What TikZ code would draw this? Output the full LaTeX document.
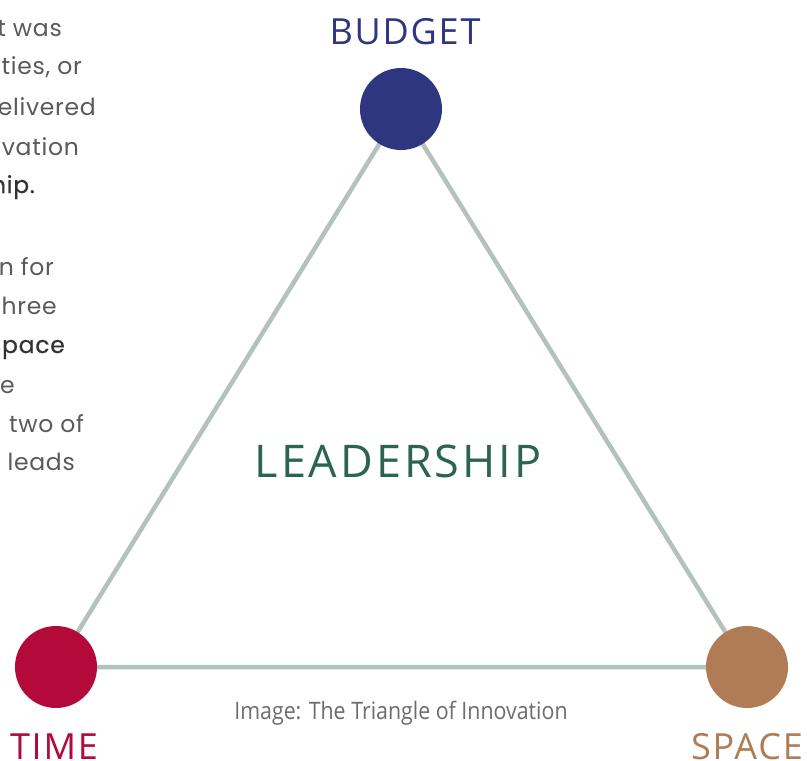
\documentclass[tikz,border=0pt]{standalone}
\usepackage{fontspec}
\setmainfont[LetterSpace=3]{Poppins}
\newfontfamily\headfont[LetterSpace=5]{Open Sans}
\newfontfamily\bigfont[LetterSpace=6.5]{Open Sans}
\newfontfamily\capfont[FakeStretch=0.89]{Open Sans}
\definecolor{budgetblue}{HTML}{2E3680}
\definecolor{timered}{HTML}{B30A3A}
\definecolor{spacebrown}{HTML}{B07C55}
\definecolor{edgegrey}{HTML}{B3C2BC}
\definecolor{leadgreen}{HTML}{2B6450}
\definecolor{captiongrey}{HTML}{6D6D6D}
\definecolor{bodygrey}{HTML}{5A5A5A}
\definecolor{bodydark}{HTML}{333333}
\begin{document}
\begin{tikzpicture}[x=1pt,y=-1pt,
  vertex/.style={circle,inner sep=0pt,minimum size=82pt},
  edge/.style={draw=edgegrey,line width=4.5pt},
  corner/.style={inner sep=0pt,font=\headfont\fontsize{36}{36}\selectfont},
  body/.style={anchor=base east,inner sep=0pt,text=bodygrey,font=\fontsize{23.5}{23.5}\selectfont},
  bodybold/.style={body,text=bodydark,font=\fontsize{23.5}{23.5}\selectfont\addfontfeatures{FakeBold=0.6}}]
\useasboundingbox[fill=white] (0,0) rectangle (807,761);

% tail ends of the paragraph lines running in from the left
\node[body] (p1) at (62,36) {t was};
\node[body] (p2) at (82,74) {ties, or};
\node[body] (p3) at (96,115) {elivered};
\node[body] (p4) at (79,155) {vation};
\node[bodybold] (p5) at (35,193) {hip.};
\node[body] (p6) at (54,275) {n for};
\node[body] (p7) at (57,314) {hree};
\node[bodybold] (p8) at (65,353) {Space};
\node[body] (p9) at (15,393) {e};
\node[body] (p10) at (84,432) {two of};
\node[body] (p11) at (75,470) {leads};

% the three corners
\coordinate (b) at (401,109);
\coordinate (t) at (56,667);
\coordinate (s) at (747,667);

\draw[edge] (b) -- (t) -- (s) -- cycle;

\node[vertex,fill=budgetblue] (budget) at (b) {};
\node[vertex,fill=timered] (time) at (t) {};
\node[vertex,fill=spacebrown] (space) at (s) {};

\node[corner,text=budgetblue,anchor=base] (budgetlabel) at (405,44) {BUDGET};
\node[corner,text=timered,anchor=base] (timelabel) at (54,759) {TIME};
\node[corner,text=spacebrown,anchor=base] (spacelabel) at (747,759) {SPACE};

\node[inner sep=0pt,anchor=base,text=leadgreen,font=\bigfont\fontsize{45}{45}\selectfont] (lead) at (398,477) {LEADERSHIP};

\node[inner sep=0pt,anchor=base,text=captiongrey,font=\capfont\fontsize{24}{24}\selectfont] (caption) at (401,719) {Image: The Triangle of Innovation};
\end{tikzpicture}
\end{document}
